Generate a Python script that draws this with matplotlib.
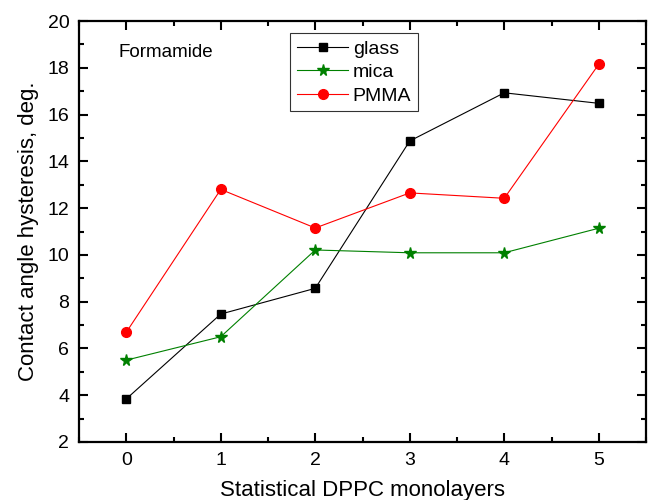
import matplotlib
matplotlib.use("Agg")
import matplotlib.pyplot as plt
from matplotlib.ticker import MultipleLocator

plt.rcParams['font.family'] = ['Liberation Sans', 'DejaVu Sans']

x = [0, 1, 2, 3, 4, 5]
glass = [3.84, 7.47, 8.57, 14.87, 16.93, 16.48]
mica = [5.5, 6.5, 10.21, 10.09, 10.09, 11.14]
pmma = [6.69, 12.80, 11.15, 12.65, 12.42, 18.15]

fig = plt.figure(figsize=(6.5, 5), dpi=100)
ax = fig.add_axes([79/650, 58/500, 567/650, 421/500])

ax.plot(x, glass, color='black', lw=0.8, marker='s', ms=6, mec='black', mfc='black', label='glass')
ax.plot(x, mica, color='green', lw=0.8, marker='*', ms=8.5, mec='green', mfc='green', label='mica')
ax.plot(x, pmma, color='red', lw=0.8, marker='o', ms=7, mec='red', mfc='red', label='PMMA')

ax.set_xlim(-0.5, 5.5)
ax.set_ylim(2, 20)
ax.xaxis.set_major_locator(MultipleLocator(1))
ax.xaxis.set_minor_locator(MultipleLocator(0.5))
ax.yaxis.set_major_locator(MultipleLocator(2))
ax.yaxis.set_minor_locator(MultipleLocator(1))
ax.tick_params(which='both', direction='in', top=True, right=True, width=1.5, labelsize=14)
ax.tick_params(which='major', length=6.5, pad=7)
ax.tick_params(which='minor', length=3.5)
for s in ax.spines.values():
    s.set_linewidth(1.6)

ax.set_xlabel('Statistical DPPC monolayers', fontsize=16, labelpad=8)
ax.set_ylabel('Contact angle hysteresis, deg.', fontsize=16, labelpad=6)

ax.text(0.07, 0.924, 'Formamide', transform=ax.transAxes, fontsize=13.5, va='center', ha='left')

leg = ax.legend(loc='upper left', bbox_to_anchor=(0.373, 0.971), borderaxespad=0,
                fontsize=14, frameon=True, fancybox=False, handlelength=2.6,
                handletextpad=0.25, labelspacing=0.3, borderpad=0.35, numpoints=1)
leg.get_frame().set_edgecolor('black')
leg.get_frame().set_linewidth(0.8)

fig.savefig('out.png', dpi=100)
